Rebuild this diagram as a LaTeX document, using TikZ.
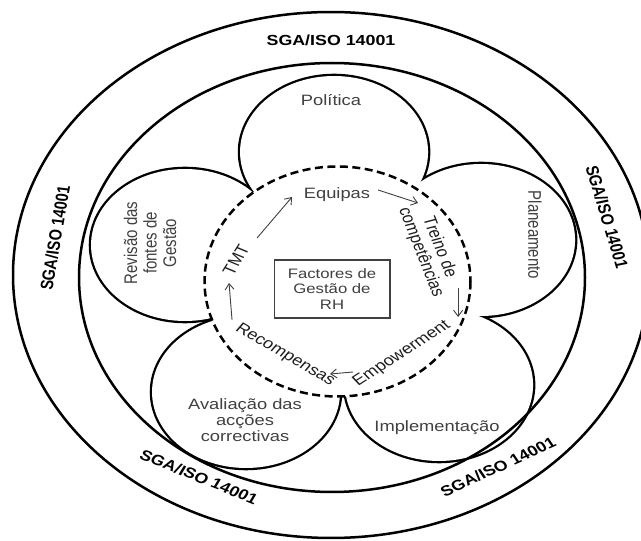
\documentclass[tikz,border=0pt]{standalone}
\usepackage{fontspec}
\setmainfont{Liberation Sans}
\usetikzlibrary{arrows.meta}

\definecolor{labelgray}{HTML}{404040}
\definecolor{darktext}{HTML}{1E1E1E}

\begin{document}
\begin{tikzpicture}[x=0.8197pt, y=-1pt,
  ring/.style={line width=2.5pt},
  petaledge/.style={line width=4.6pt},
  sga/.style={font=\fontsize{14.6}{16}\selectfont\bfseries, text=black, inner sep=0pt},
  petallabel/.style={font=\fontsize{15}{16}\selectfont, text=labelgray, align=center, inner sep=0pt},
  cyclelabel/.style={font=\fontsize{15}{16}\selectfont, text=darktext, align=center, inner sep=0pt},
  cyclearrow/.style={draw=labelgray, line width=0.9pt, -{Straight Barb[length=6pt,width=9pt]}},
  factorbox/.style={draw=labelgray, line width=1.1pt, minimum width=95, minimum height=58,
    inner sep=0pt, align=center, font=\fontsize{13.7}{15.5}\selectfont, text=labelgray},
]
\begin{scope}[xscale=1.22, transform shape]
\path[use as bounding box] (0,0) rectangle (641,541);

% centres of the five petals
\coordinate (pTop)   at (334,152);
\coordinate (pRight) at (481,240);
\coordinate (pLR)    at (439,385);
\coordinate (pLL)    at (246,392);
\coordinate (pLeft)  at (185,245);

% petals: thick outline, then white fill, leaving the outline of their union
\foreach \p in {pTop,pRight,pLR,pLL,pLeft}
  \draw[petaledge] (\p) ellipse [x radius=94, y radius=76];
\foreach \p in {pTop,pRight,pLR,pLL,pLeft}
  \fill[white] (\p) ellipse [x radius=94, y radius=76];

% the two rings of the management system
\draw[ring] (332,277.5) ellipse [x radius=253, y radius=214.5];
\draw[ring] (331,275) ellipse [x radius=318, y radius=263];

% dashed core of the HR cycle
\draw[line width=2.5pt, dash pattern=on 8pt off 4.5pt, fill=white]
  (337.5,281.5) ellipse [x radius=133, y radius=115];

% ring labels
\node[sga] (sgaTop) at (331,40) {SGA/ISO 14001};
\node[sga, rotate=82] (sgaLeft) at (55,238) {SGA/ISO 14001};
\node[sga, rotate=-76] (sgaRight) at (607,217) {SGA/ISO 14001};
\node[sga, rotate=-26] (sgaBL) at (199,477) {SGA/ISO 14001};
\node[sga, rotate=29] (sgaBR) at (498,467) {SGA/ISO 14001};

% petal labels
\node[petallabel] (politica) at (331,100) {Política};
\node[petallabel, rotate=-90] (planeamento) at (535,235) {Planeamento};
\node[petallabel] (implementacao) at (437,428) {Implementação};
\node[petallabel] (avaliacao) at (245,420) {Avaliação das\\acções\\correctivas};
\node[petallabel, rotate=90] (revisao) at (150,243) {Revisão das\\fontes de\\Gestão};

% HR cycle
\node[factorbox] (factores) at (332,289) {Factores de\\Gestão de\\RH};
\node[cyclelabel, text=labelgray] (equipas) at (337,195) {Equipas};
\node[cyclelabel, rotate=-72] (treino) at (430,250) {Treino de\\competências};
\node[cyclelabel, rotate=38] (empowerment) at (402,354) {Empowerment};
\node[cyclelabel, rotate=-35] (recompensas) at (285,355) {Recompensas};
\node[cyclelabel, rotate=63] (tmt) at (236,260) {TMT};

\coordinate (tmtOut) at (257,238);  \coordinate (equipasIn) at (292,197);
\coordinate (equipasOut) at (378,190); \coordinate (treinoIn) at (418,203);
\coordinate (treinoOut) at (458,288); \coordinate (empIn) at (458,317);
\coordinate (empOut) at (353,372);  \coordinate (recIn) at (330,374);
\coordinate (recOut) at (232,320);  \coordinate (tmtIn) at (229,283);

\draw[cyclearrow] (tmtOut) -- (equipasIn);
\draw[cyclearrow] (equipasOut) -- (treinoIn);
\draw[cyclearrow] (treinoOut) -- (empIn);
\draw[cyclearrow] (empOut) -- (recIn);
\draw[cyclearrow] (recOut) -- (tmtIn);
\end{scope}
\end{tikzpicture}
\end{document}
